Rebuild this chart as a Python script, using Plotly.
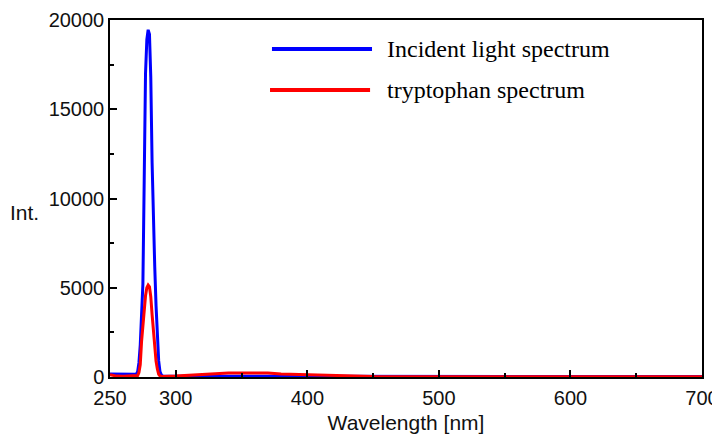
import plotly.graph_objects as go

# Incident light spectrum (blue)
blue_wl = [250, 255, 260, 265, 268, 269, 270, 271, 272, 273, 274, 275, 276, 277, 278, 279,
           280, 281, 282, 283, 284, 285, 286, 287, 288, 289, 290, 300, 400, 500, 600, 700]
blue_int = [170, 160, 160, 150, 150, 150, 160, 300, 800, 1800, 3200, 5200, 11000, 17000, 18900, 19450,
            19200, 16800, 12000, 8500, 6200, 4000, 2200, 900, 300, 120, 60, 40, 40, 30, 30, 30]

# Tryptophan spectrum (red)
red_wl = [250, 255, 260, 265, 268, 270, 271, 272, 273, 274, 275, 276, 277, 278, 279, 280,
          281, 282, 283, 284, 285, 286, 287, 288, 289, 290, 300, 310, 320, 330, 340, 350,
          360, 370, 380, 390, 400, 410, 420, 430, 450, 500, 600, 700]
red_int = [130, 50, 40, 40, 40, 50, 80, 250, 700, 2000, 2900, 3800, 4550, 5000, 5150, 5050,
           4500, 3500, 2600, 1700, 900, 450, 150, 60, 30, 30, 50, 90, 140, 200, 230, 230,
           230, 220, 170, 150, 110, 100, 90, 40, 30, 20, 20, 20]

x_ticks = [250, 300, 400, 500, 600, 700]
x_ticktext = ["250", "300", "400", "500", "600", "700"]
y_ticks = [0, 5000, 10000, 15000, 20000]
y_ticktext = ["0", "5000", "10000", "15000", "20000"]

legend_names = ["Incident light spectrum", "tryptophan spectrum"]
colors = ["#0000ff", "#ff0000"]

fig = go.Figure()
fig.add_trace(go.Scatter(x=blue_wl, y=blue_int, mode="lines", name=legend_names[0],
                         line=dict(color=colors[0], width=3)))
fig.add_trace(go.Scatter(x=red_wl, y=red_int, mode="lines", name=legend_names[1],
                         line=dict(color=colors[1], width=3)))

tickfont = dict(family="Liberation Sans, Arial", size=20, color="#111111")

fig.update_layout(
    width=712, height=429,
    margin=dict(l=102, r=18, t=12, b=60),
    paper_bgcolor="white", plot_bgcolor="white",
    showlegend=False,
    xaxis=dict(range=[250, 700], tickvals=x_ticks, ticktext=x_ticktext, ticks="inside", ticklen=7,
               tickwidth=1.5, automargin=False, ticklabelstandoff=2,
               tickcolor="black", showgrid=False, zeroline=False, showline=True, linecolor="black",
               linewidth=1.5, mirror=True, tickfont=tickfont,
               minor=dict(ticks="inside", ticklen=4, tickwidth=1.5, tickcolor="black",
                          tickvals=[350, 450, 550, 650], showgrid=False),
               title=dict(text="Wavelength [nm]", font=dict(family="Liberation Sans, Arial", size=21,
                                                            color="#111111"), standoff=8)),
    yaxis=dict(range=[0, 20000], tickvals=y_ticks, ticktext=y_ticktext, ticks="inside", ticklen=7,
               tickwidth=1.5, automargin=False,
               tickcolor="black", showgrid=False, zeroline=False, showline=True, linecolor="black",
               linewidth=1.5, mirror=True, tickfont=tickfont,
               minor=dict(ticks="inside", ticklen=4, tickwidth=1.5, tickcolor="black",
                          tickvals=[2500, 7500, 12500, 17500], showgrid=False)),
)

# Y-axis label
fig.add_annotation(text="Int.", xref="paper", yref="paper", x=-0.172, y=0.46,
                   xanchor="left", yanchor="middle", showarrow=False,
                   font=dict(family="Liberation Sans, Arial", size=21, color="#111111"))

# Manual legend
leg_y = [0.9188, 0.8039]
leg_x0 = [0.2736, 0.2703]
for i in range(2):
    fig.add_shape(type="line", xref="paper", yref="paper", x0=leg_x0[i], x1=leg_x0[i] + 0.169,
                  y0=leg_y[i], y1=leg_y[i], line=dict(color=colors[i], width=4))
    fig.add_annotation(text=legend_names[i], xref="paper", yref="paper", x=0.4645, y=leg_y[i],
                       xanchor="left", yanchor="middle", showarrow=False,
                       font=dict(family="Liberation Serif, Times New Roman", size=24, color="black"))

fig.write_html("out.html")
